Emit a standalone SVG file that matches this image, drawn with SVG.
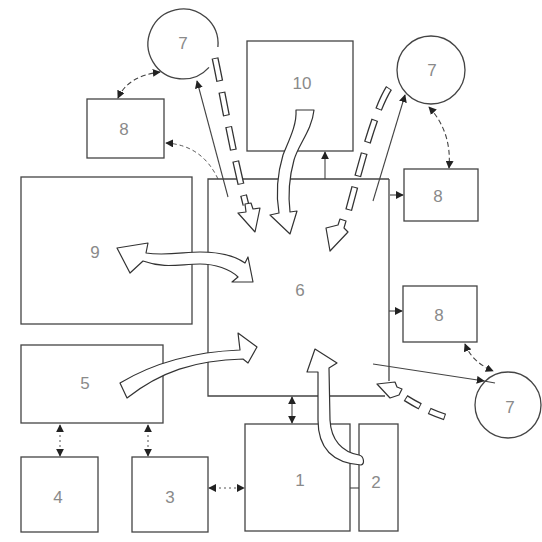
<svg xmlns="http://www.w3.org/2000/svg" width="542" height="542" viewBox="0 0 542 542">
<style>
.box{fill:none;stroke:#444;stroke-width:1.3}
.ln{fill:none;stroke:#444;stroke-width:1.1}
.dsh{fill:none;stroke:#444;stroke-width:1.1;stroke-dasharray:5 3}
.dot{fill:none;stroke:#555;stroke-width:1;stroke-dasharray:2 3}
.hol{fill:#fff;stroke:#333;stroke-width:1.2;stroke-linejoin:round}
.dbo{fill:none;stroke:#333;stroke-width:7;stroke-dasharray:24 11}
.dbi{fill:none;stroke:#fff;stroke-width:4.4;stroke-dasharray:22 13;stroke-dashoffset:-1}
.lbl{font-family:"Liberation Sans",Arial,sans-serif;font-size:17px;fill:#8a8a8a;text-anchor:middle;dominant-baseline:central}
</style>
<defs>
<marker id="tri" viewBox="0 0 10 10" refX="9" refY="5" markerWidth="8" markerHeight="8" markerUnits="userSpaceOnUse" orient="auto-start-reverse">
<path d="M0,0 L10,5 L0,10 Z" fill="#222"/>
</marker>
</defs>
<rect width="542" height="542" fill="#fff"/>

<g id="n6"><path class="box" d="M389,179 L208,179 L208,396 L385,396 M389,179 L389,381"/><text class="lbl" x="300" y="290">6</text></g>
<g id="n10"><rect class="box" x="247" y="41" width="106" height="110"/><text class="lbl" x="302" y="83">10</text></g>
<g id="n9"><rect class="box" x="21" y="177" width="171" height="147"/><text class="lbl" x="95" y="252">9</text></g>
<g id="n5"><rect class="box" x="21" y="345" width="142" height="78"/><text class="lbl" x="85" y="383">5</text></g>
<g id="n4"><rect class="box" x="21" y="457" width="77" height="75"/><text class="lbl" x="58" y="497">4</text></g>
<g id="n3"><rect class="box" x="132" y="457" width="76" height="75"/><text class="lbl" x="170" y="497">3</text></g>
<g id="n1"><rect class="box" x="245" y="424" width="105" height="107"/><text class="lbl" x="300" y="480">1</text></g>
<g id="n2"><rect class="box" x="359" y="424" width="39" height="107"/><text class="lbl" x="376" y="482">2</text></g>
<g id="n8a"><rect class="box" x="87" y="99" width="77" height="59"/><text class="lbl" x="124" y="129">8</text></g>
<g id="n8b"><rect class="box" x="404" y="169" width="74" height="52"/><text class="lbl" x="438" y="196">8</text></g>
<g id="n8c"><rect class="box" x="403" y="286" width="74" height="56"/><text class="lbl" x="439" y="315">8</text></g>
<g id="n7a"><path class="box" d="M209,67.4 A35,35 0 1 1 217.9,47"/><text class="lbl" x="183" y="43">7</text></g>
<g id="n7b"><circle class="box" cx="431" cy="70" r="34"/><text class="lbl" x="432" y="70">7</text></g>
<g id="n7c"><circle class="box" cx="508" cy="405" r="33"/><text class="lbl" x="510" y="407">7</text></g>

<g id="connectors">
<path class="dsh" d="M118,98 Q128,76 160,72" marker-start="url(#tri)" marker-end="url(#tri)"/>
<path class="dsh" d="M218,179 Q202,145 166,143" marker-end="url(#tri)" style="stroke-dasharray:4 3;stroke-width:0.9"/>
<path class="ln" d="M228,197 L197,81" marker-end="url(#tri)"/>
<path class="ln" d="M325,179 L325,152" marker-end="url(#tri)"/>
<path class="ln" d="M390,195 L403,195" marker-end="url(#tri)"/>
<path class="ln" d="M373,201 L405,95" marker-end="url(#tri)"/>
<path class="dsh" d="M429,107 Q452,132 449,168" marker-start="url(#tri)" marker-end="url(#tri)"/>
<path class="ln" d="M389,311 L402,311" marker-end="url(#tri)"/>
<path class="dsh" d="M465,344 Q472,362 493,371" marker-start="url(#tri)" marker-end="url(#tri)"/>
<path class="ln" d="M373,364 L484,381" marker-end="url(#tri)"/>
<path class="ln" d="M484,381 L495,383"/>
<path class="ln" d="M292,397 L292,423" marker-start="url(#tri)" marker-end="url(#tri)"/>
<path class="dot" d="M60,425 L60,456" marker-start="url(#tri)" marker-end="url(#tri)"/>
<path class="dot" d="M148,425 L148,456" marker-start="url(#tri)" marker-end="url(#tri)"/>
<path class="dot" d="M209,488 L244,488" marker-start="url(#tri)" marker-end="url(#tri)"/>
<path class="ln" d="M350,488 L359,488"/>

<path class="hol" d="M314,110 C312,130 298,145 294,160 C289,178 288,195 290,212 L297,211 L290,234 L270,215 L279,213 C276,195 277,175 283,155 C289,140 297,125 296,110 Z"/>
<path class="hol" d="M361,465 C332,463 318,447 318,420 L318,372 L307,372 L315,349 L337,363 L329,368 L330,420 C331,440 342,452 359,455 C364,456 365,464 361,465 Z"/>
<path class="hol" d="M120,383 C150,365 190,352 240,350 L238,333 L257,347 L248,363 L243,359 C195,360 160,372 127,398 Z"/>
<path class="hol" d="M117,248 L148,243 L146,253 C165,256 185,252 200,252 C220,252 235,256 245,263 L248,257 L253,282 L232,282 L238,277 C230,269 215,264 200,264 C180,264 165,269 143,261 L130,273 Z"/>

<path class="dbo" d="M215,58 C222,90 232,150 246,205"/>
<path class="dbi" d="M215,58 C222,90 232,150 246,205"/>
<path class="hol" d="M255,232 L238,213 L246,212 L245,204 L251,203 L253,209 L260,208 Z"/>

<path class="dbo" d="M389,88 C375,110 362,160 346,220"/>
<path class="dbi" d="M389,88 C375,110 362,160 346,220"/>
<path class="hol" d="M330,251 L326,228 L338,225 L340,219 L346,221 L344,228 L348,232 Z"/>

<path class="dbo" d="M445,417 C430,412 416,405 401,395" style="stroke-dasharray:17 10"/>
<path class="dbi" d="M445,417 C430,412 416,405 401,395" style="stroke-dasharray:15 12;stroke-dashoffset:-1"/>
<path class="hol" d="M377,384 L395,382 L397,387 L402,389 L399,395 L390,398 Z"/>
</g>
</svg>
